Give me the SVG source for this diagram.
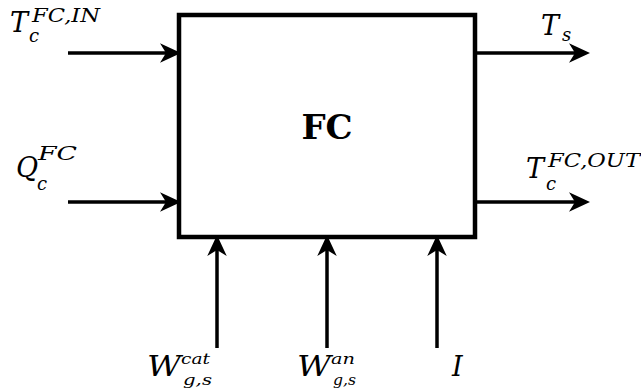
<svg xmlns="http://www.w3.org/2000/svg" width="641" height="392" viewBox="0 0 641 392">
<style>
.m{font-style:italic;font-size:27px;fill:#000}
.s{font-style:italic;font-size:18px;fill:#000}
.t{font-style:italic;font-size:15px;fill:#000}
.b{font-weight:bold;font-size:34px;fill:#000}
.c{stroke:#000;stroke-width:3.5;fill:none}
</style>
<defs>
<marker id="ah" markerUnits="userSpaceOnUse" orient="auto" refX="0" refY="0" markerWidth="30" markerHeight="30" viewBox="-10 -10 20 20" overflow="visible">
<path d="M8,0 L-6,-6.5 L-2,0 L-6,6.5 Z" fill="#000"/>
</marker>
</defs>
<g id="fc">
<rect x="179" y="15" width="296" height="222" fill="#fff" stroke="#000" stroke-width="4.5"/>
<text class="b" font-family="'DejaVu Serif', serif" x="327" y="139" text-anchor="middle">FC</text>
</g>
<g id="connectors">
<line class="c" x1="68" y1="53" x2="169" y2="53" marker-end="url(#ah)"/>
<line class="c" x1="68" y1="202" x2="169" y2="202" marker-end="url(#ah)"/>
<line class="c" x1="477" y1="53" x2="578" y2="53" marker-end="url(#ah)"/>
<line class="c" x1="477" y1="202" x2="578" y2="202" marker-end="url(#ah)"/>
<line class="c" x1="217" y1="348" x2="217" y2="247" marker-end="url(#ah)"/>
<line class="c" x1="327" y1="348" x2="327" y2="247" marker-end="url(#ah)"/>
<line class="c" x1="437" y1="348" x2="437" y2="247" marker-end="url(#ah)"/>
</g>
<g id="labels" font-family="'DejaVu Serif', serif">
<g id="label-tcin">
<text class="m" x="10" y="32">T</text>
<text class="s" x="29" y="42">c</text>
<text class="s" x="32" y="22" textLength="68" lengthAdjust="spacingAndGlyphs">FC,IN</text>
</g>
<g id="label-qc">
<text class="m" x="16" y="177">Q</text>
<text class="s" x="37" y="190">c</text>
<text class="s" x="38" y="160" textLength="39" lengthAdjust="spacingAndGlyphs">FC</text>
</g>
<g id="label-ts">
<text class="m" x="541" y="35">T</text>
<text class="s" x="562" y="41">s</text>
</g>
<g id="label-tcout">
<text class="m" x="526" y="178">T</text>
<text class="s" x="546" y="190">c</text>
<text class="s" x="548" y="167" textLength="92" lengthAdjust="spacingAndGlyphs">FC,OUT</text>
</g>
<g id="label-wcat">
<text class="m" x="147" y="376" textLength="34" lengthAdjust="spacingAndGlyphs">W</text>
<text class="t" x="181" y="364" textLength="29" lengthAdjust="spacingAndGlyphs">cat</text>
<text class="t" x="183" y="385" textLength="29" lengthAdjust="spacingAndGlyphs">g,s</text>
</g>
<g id="label-wan">
<text class="m" x="297" y="376" textLength="34" lengthAdjust="spacingAndGlyphs">W</text>
<text class="t" x="331" y="364" textLength="24" lengthAdjust="spacingAndGlyphs">an</text>
<text class="t" x="333" y="385" textLength="23" lengthAdjust="spacingAndGlyphs">g,s</text>
</g>
<g id="label-i">
<text class="m" x="452" y="376">I</text>
</g>
</g>
</svg>
